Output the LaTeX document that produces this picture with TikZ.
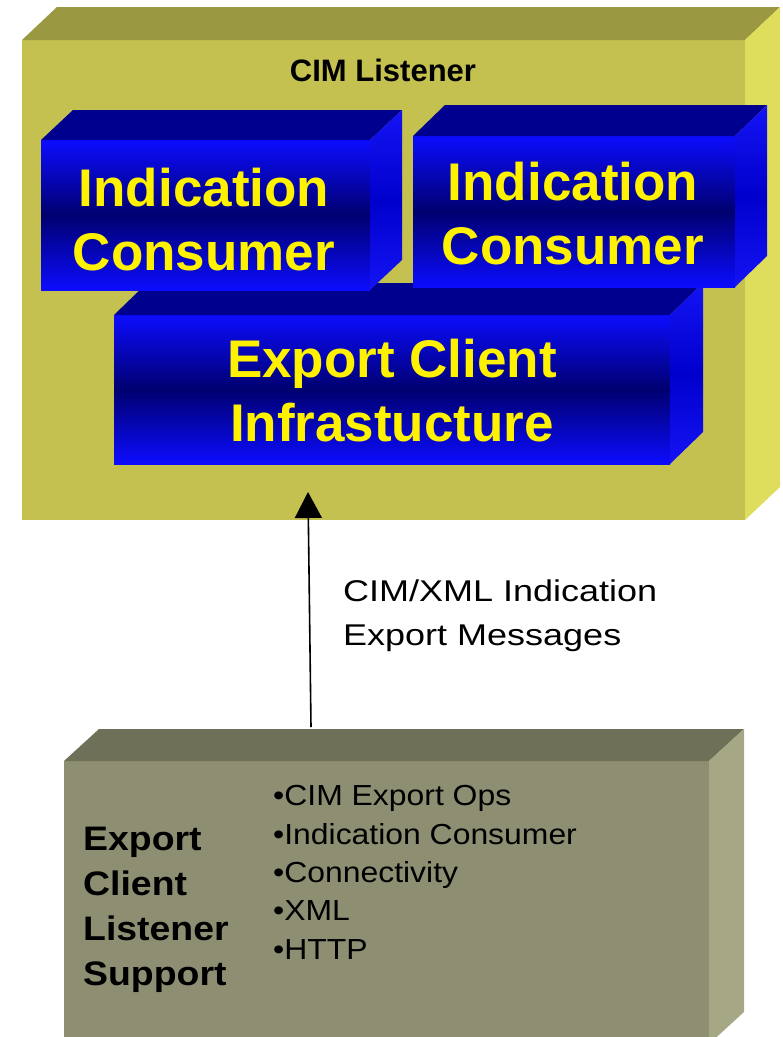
\documentclass[tikz,border=0pt]{standalone}
\usepackage{fontspec}
\setmainfont{Liberation Sans}
\newfontfamily\labelfont[FakeStretch=1.2]{Liberation Sans}
\newfontfamily\listfont[FakeStretch=1.1]{Liberation Sans}
\usetikzlibrary{arrows.meta}

\definecolor{lstfront}{RGB}{196,193,80}
\definecolor{lsttop}{RGB}{154,152,64}
\definecolor{lstside}{RGB}{223,222,92}
\definecolor{bluebright}{RGB}{12,12,255}
\definecolor{bluedeep}{RGB}{0,0,112}
\definecolor{bluetop}{RGB}{0,0,142}
\definecolor{bluesidelight}{RGB}{20,20,245}
\definecolor{bluesidedark}{RGB}{0,0,205}
\definecolor{supfront}{RGB}{142,142,114}
\definecolor{suptop}{RGB}{110,112,88}
\definecolor{supside}{RGB}{165,167,133}

% top and right faces of a block whose front face is node #1, depth (#2,#3)
\newcommand\blockfaces[5]{%
  \path[#4] (#1.north west) -- ++(#2,-#3) -- ([shift={(#2,-#3)}]#1.north east)
        -- (#1.north east) -- cycle;
  \path[#5] (#1.north east) -- ++(#2,-#3) -- ([shift={(#2,-#3)}]#1.south east)
        -- (#1.south east) -- cycle;}

\begin{document}
\begin{tikzpicture}[x=1pt,y=-1pt,
  front/.style={rectangle,inner sep=0pt,outer sep=0pt,anchor=north west},
  bluefront/.style={front,top color=bluebright,bottom color=bluebright,middle color=bluedeep},
  bluetopface/.style={fill=bluetop},
  bluesideface/.style={top color=bluesidelight,bottom color=bluesidelight,middle color=bluesidedark},
  bluetext/.style={inner sep=0pt,align=center,text=yellow,
    font=\bfseries\fontsize{53}{64}\selectfont},
  arrowline/.style={line width=1.6pt,-{Triangle[width=27pt,length=26pt]}}]

\useasboundingbox (0,0) rectangle (783,1037);
\clip (0,0) rectangle (783,1037);

% CIM Listener container
\node[front,fill=lstfront,minimum width=723pt,minimum height=480pt] (listener) at (22,40) {};
\blockfaces{listener}{35}{33}{fill=lsttop}{fill=lstside}
\node[anchor=base,inner sep=0pt,font=\bfseries\fontsize{31}{37}\selectfont] (ltitle) at (383,81) {CIM Listener};

% export client infrastructure
\node[bluefront,minimum width=556pt,minimum height=149pt] (infra) at (114,315) {};
\blockfaces{infra}{33}{32}{bluetopface}{bluesideface}

% indication consumers
\node[bluefront,minimum width=329pt,minimum height=150pt] (consA) at (41,140) {};
\blockfaces{consA}{32}{30}{bluetopface}{bluesideface}
\node[bluefront,minimum width=322pt,minimum height=151pt] (consB) at (413,136) {};
\blockfaces{consB}{32}{31}{bluetopface}{bluesideface}

% text anchored on the baseline of its last line
\node[bluetext,anchor=base] (consAtext) at (204,270) {Indication\\Consumer};
\node[bluetext,anchor=base] (consBtext) at (573,264) {Indication\\Consumer};
\node[bluetext,anchor=base] (infratext) at (392,441) {Export Client\\Infrastucture};

% listener support block
\node[front,fill=supfront,minimum width=645pt,minimum height=283pt] (support) at (64,761) {};
\blockfaces{support}{35}{32}{fill=suptop}{fill=supside}
\node[anchor=base west,inner sep=0pt,align=left,
  font=\listfont\bfseries\fontsize{34}{45}\selectfont] (suptitle) at (83,985)
  {Export\\Client\\Listener\\Support};
\node[anchor=base west,inner sep=0pt,align=left,
  font=\listfont\fontsize{29}{38.3}\selectfont] (suplist) at (273,959)
  {•CIM Export Ops\\•Indication Consumer\\•Connectivity\\•XML\\•HTTP};

% indication export flow
\coordinate (flowfoot) at (311,727);
\coordinate (flowtip) at (308,492);
\draw[arrowline] (flowfoot) -- (flowtip);
\node[anchor=base west,inner sep=0pt,align=left,
  font=\labelfont\fontsize{30}{44}\selectfont] (flowlabel) at (343,645)
  {CIM/XML Indication\\Export Messages};
\end{tikzpicture}
\end{document}
